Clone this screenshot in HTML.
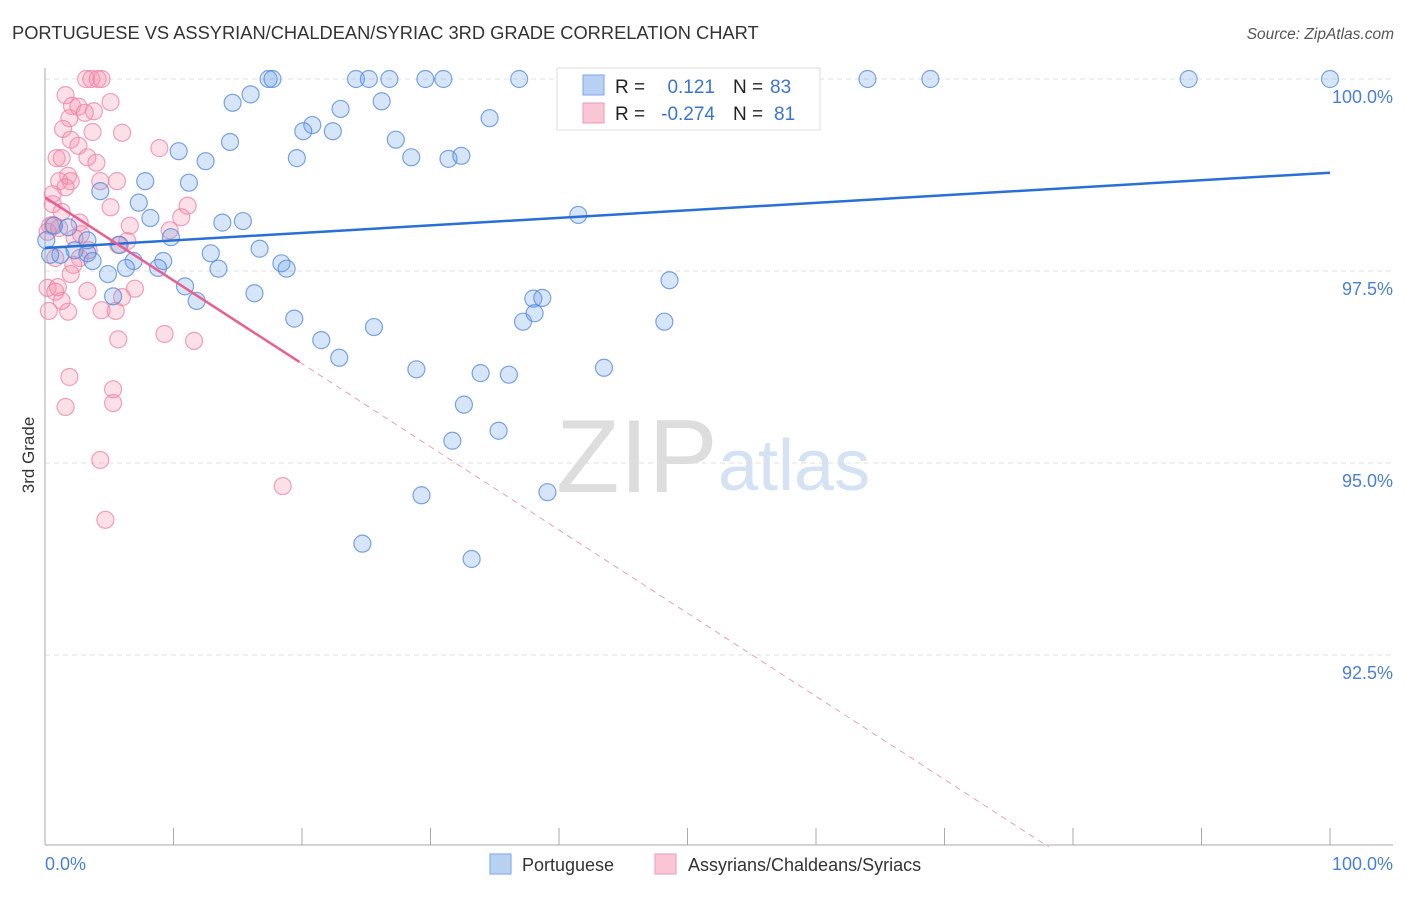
<!DOCTYPE html>
<html><head><meta charset="utf-8"><style>
body{margin:0;background:#fff;font-family:"Liberation Sans",sans-serif}
svg text{font-family:"Liberation Sans",sans-serif}
</style></head><body>
<svg width="1406" height="892" viewBox="0 0 1406 892">
<text x="12" y="39" font-size="18.3" fill="#333">PORTUGUESE VS ASSYRIAN/CHALDEAN/SYRIAC 3RD GRADE CORRELATION CHART</text>
<text x="1394" y="39" font-size="15.5" fill="#555" font-style="italic" text-anchor="end">Source: ZipAtlas.com</text>
<g>
<text x="556" y="492" font-size="104" fill="#ddd" font-family="Liberation Serif, serif">ZIP</text>
<text x="718" y="490" font-size="72" fill="#d4e2f4">atlas</text>
</g>
<g id="grid"></g>
<g id="axes"></g>
<g id="pts"></g>
<g id="trends"></g>
<text transform="translate(34,455) rotate(-90)" font-size="17" fill="#333" text-anchor="middle">3rd Grade</text>
<text x="45" y="870" font-size="18" fill="#4a7fd6">0.0%</text>
<text x="1393" y="870" font-size="18" fill="#4a7fd6" text-anchor="end">100.0%</text>
<g>
<rect x="557" y="68" width="263" height="62" fill="#fff" stroke="#ddd"/>
<rect x="583" y="75" width="21" height="20" fill="#b8d1f3" stroke="#7aa6e6"/>
<rect x="583" y="103" width="21" height="20" fill="#f9c6d5" stroke="#ee9ab5"/>
<text x="615" y="93" font-size="19" fill="#222">R =</text>
<text x="715" y="93" font-size="19" fill="#3a75d3" text-anchor="end">0.121</text>
<text x="733" y="93" font-size="19" fill="#222">N =</text>
<text x="770" y="93" font-size="19" fill="#3a75d3">83</text>
<text x="615" y="120" font-size="19" fill="#222">R =</text>
<text x="715" y="120" font-size="19" fill="#3a75d3" text-anchor="end">-0.274</text>
<text x="733" y="120" font-size="19" fill="#222">N =</text>
<text x="774" y="120" font-size="19" fill="#3a75d3">81</text>
</g>
<g>
<rect x="490" y="854" width="21" height="20" fill="#b8d1f3" stroke="#7aa6e6"/>
<text x="522" y="871" font-size="18" fill="#333">Portuguese</text>
<rect x="655" y="854" width="21" height="20" fill="#f9c6d5" stroke="#ee9ab5"/>
<text x="688" y="871" font-size="18" fill="#333">Assyrians/Chaldeans/Syriacs</text>
</g>
</svg>
<script>
const yTicks=[100,97.5,95,92.5];
const yTickLabels=["100.0%","97.5%","95.0%","92.5%"];
const xTicks=[0,10,20,30,40,50,60,70,80,90,100];
const blueX=[17.4,17.7,24.2,25.2,26.8,29.6,31.0,36.9,45.5,64.0,68.9,89.0,100,16.0,14.6,26.2,34.6,23.0,20.8,20.1,22.4,14.4,27.3,10.4,19.6,12.5,28.5,31.4,32.4,7.8,11.2,4.3,7.3,8.2,13.8,15.4,41.5,0.7,1.8,9.8,5.8,2.3,16.7,12.9,1.2,3.3,3.7,6.9,9.2,18.4,18.8,13.5,8.8,6.3,4.9,10.9,16.3,5.3,11.8,48.6,38.0,38.7,19.4,37.2,38.1,48.2,25.6,21.5,22.9,28.9,33.9,36.1,43.5,32.6,35.3,31.7,29.3,39.1,24.7,33.2,0.4,0.1,3.3];
const blueY=[100,100,100,100,100,100,100,100,100,100,100,100,100,99.80,99.69,99.71,99.49,99.61,99.40,99.32,99.32,99.18,99.21,99.06,98.97,98.93,98.98,98.96,99.00,98.67,98.65,98.54,98.39,98.19,98.13,98.15,98.23,98.09,98.07,97.94,97.84,97.77,97.79,97.73,97.71,97.73,97.63,97.63,97.63,97.60,97.53,97.53,97.54,97.54,97.46,97.30,97.21,97.17,97.11,97.38,97.14,97.15,96.88,96.84,96.95,96.84,96.77,96.60,96.37,96.22,96.17,96.15,96.24,95.76,95.42,95.29,94.58,94.62,93.95,93.75,97.71,97.90,97.90];
const pinkX=[3.2,3.6,4.1,4.4,1.6,2.1,2.6,3.8,5.1,1.9,3.1,1.4,3.7,6.0,2.0,2.6,8.9,0.9,3.3,4.0,1.3,1.8,1.1,2.0,4.3,5.6,0.6,1.6,0.6,5.1,1.3,11.1,10.6,6.6,0.2,0.6,2.8,9.7,2.3,6.4,5.7,3.4,2.7,2.2,2.0,0.2,1.0,0.8,3.3,7.0,6.0,0.3,1.8,4.4,5.5,9.3,11.6,5.7,1.9,5.3,5.3,1.6,4.3,18.5,4.7,1.1,0.4,0.8,1.3,2.7];
const pinkY=[100,100,100,100,99.79,99.65,99.64,99.58,99.70,99.49,99.56,99.35,99.31,99.30,99.21,99.13,99.10,98.97,98.98,98.91,98.97,98.74,98.67,98.67,98.67,98.67,98.50,98.59,98.37,98.33,98.27,98.35,98.20,98.09,98.01,98.10,97.98,98.03,97.93,97.89,97.84,97.77,97.67,97.58,97.46,97.28,97.29,97.23,97.24,97.27,97.16,96.98,96.97,96.99,96.98,96.68,96.59,96.61,96.12,95.96,95.78,95.73,95.04,94.70,94.26,98.06,98.09,97.67,97.11,98.13];
const blueTrend=[97.80,98.78];
const pinkTrend=[98.46,-0.1083];
const pinkSolidEnd=19.8;

const NS="http://www.w3.org/2000/svg";
const X=v=>45+v*12.85;
const Y=v=>79+(100-v)*76.8;
function mk(tag,attrs,parent){const e=document.createElementNS(NS,tag);for(const k in attrs)e.setAttribute(k,attrs[k]);parent.appendChild(e);return e;}
const grid=document.getElementById('grid'),axes=document.getElementById('axes'),pts=document.getElementById('pts'),tr=document.getElementById('trends');
yTicks.forEach((t,i)=>{
 const l=mk('line',{x1:45,x2:1393,y1:Y(t),y2:Y(t),stroke:'#e0e0e0','stroke-dasharray':'5,4'},grid);
 
 
 const tx=mk('text',{x:1393,y:Y(t)+24,'font-size':18,fill:'#4a7fd6','text-anchor':'end'},grid);
 tx.textContent=yTickLabels[i];
 
 
});
const ya=mk('line',{x1:45,x2:45,y1:68,y2:845,stroke:'#aaa'},axes);


const xa=mk('line',{x1:45,x2:1393,y1:845,y2:845,stroke:'#aaa'},axes);


xTicks.forEach(t=>{
 const l=mk('line',{x1:X(t),x2:X(t),y1:828,y2:845,stroke:'#aaa'},axes);
 
 
});
function drawPts(xs,ys,fill,stroke,name){
 xs.forEach((x,i)=>{
  const c=mk('circle',{cx:X(x),cy:Y(ys[i]),r:8.5,fill:fill,stroke:stroke,'stroke-width':1.2},pts);
  
  
 });
}
drawPts(pinkX,pinkY,'rgba(244,143,172,0.28)','rgba(236,130,165,0.75)','assyrian-point');
drawPts(blueX,blueY,'rgba(110,160,230,0.28)','rgba(80,135,215,0.75)','portuguese-point');
const bl=mk('line',{x1:X(0),y1:Y(blueTrend[0]),x2:X(100),y2:Y(blueTrend[1]),stroke:'#2a6fd6','stroke-width':2.5},tr);


const pEnd=(90-pinkTrend[0])/pinkTrend[1];
const pl=mk('line',{x1:X(0),y1:Y(pinkTrend[0]),x2:X(pinkSolidEnd),y2:Y(pinkTrend[0]+pinkTrend[1]*pinkSolidEnd),stroke:'#e8608f','stroke-width':2.5},tr);


const pd=mk('line',{x1:X(pinkSolidEnd),y1:Y(pinkTrend[0]+pinkTrend[1]*pinkSolidEnd),x2:X(pEnd),y2:Y(90),stroke:'#e8a0b8','stroke-width':1,'stroke-dasharray':'6,5'},tr);


</script>
</body></html>
